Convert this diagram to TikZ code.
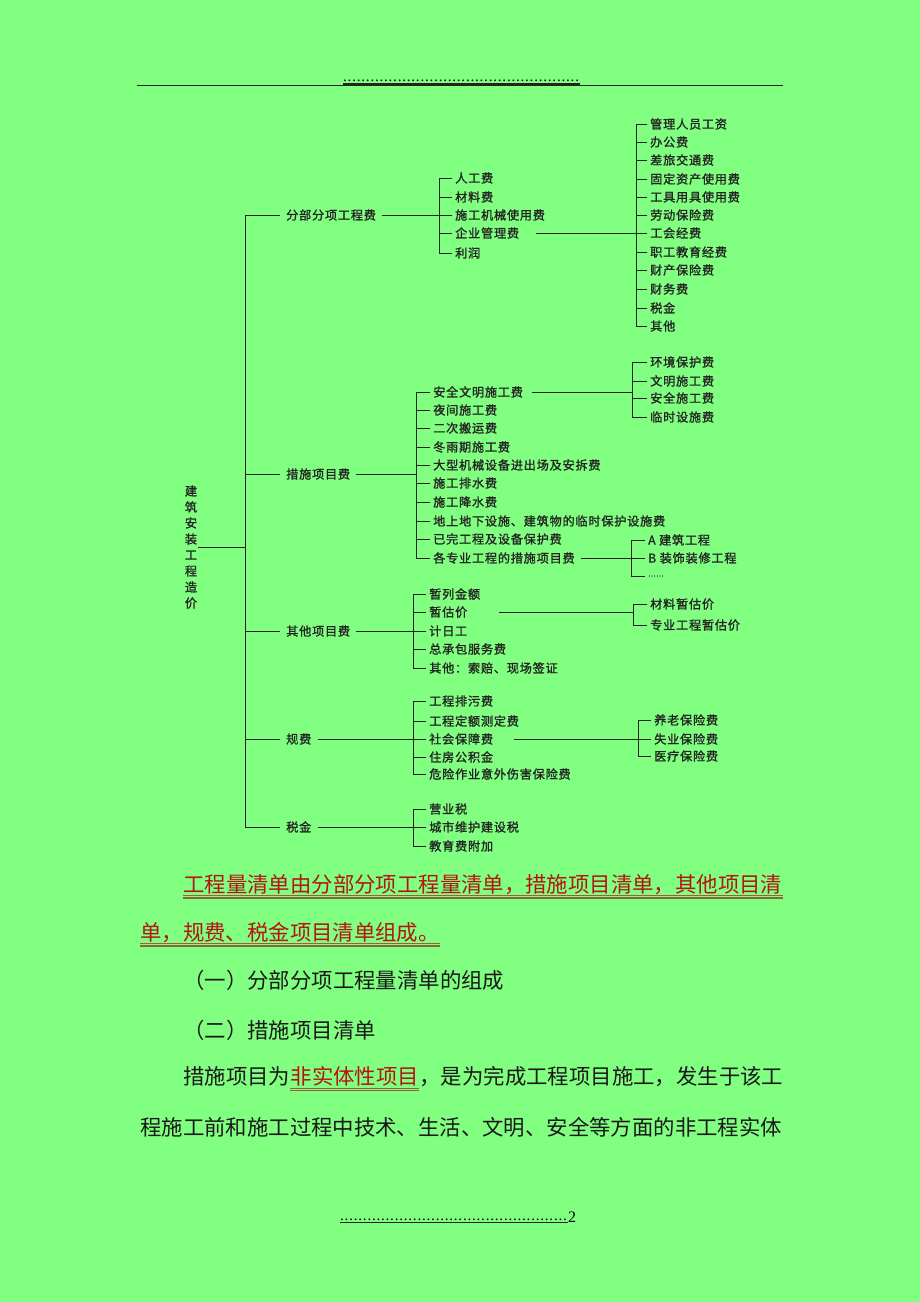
\documentclass[tikz,border=0pt]{standalone}
\usepackage{fontspec}
\setmainfont{Noto Sans CJK SC}
\newfontfamily\treefont[LetterSpace=6, FakeBold=1.2]{Noto Sans CJK SC}
\newfontfamily\pagefont{Liberation Serif}
\usetikzlibrary{calc,positioning}
\definecolor{pagegreen}{RGB}{128,255,128}
\definecolor{ink}{RGB}{35,35,35}
\definecolor{notered}{RGB}{180,20,20}
\definecolor{ulbrown}{RGB}{155,95,60}
\newcount\dotcount
\newcommand{\dotrow}[1]{\dotcount=0 \loop\ifnum\dotcount<#1 .\kern0.8pt\advance\dotcount by 1 \repeat}
\tikzset{
  conn/.style={draw=ink, line width=0.7pt},
  lvl/.style={anchor=west, inner xsep=6pt, inner ysep=1pt, text=ink, font=\treefont\fontsize{12.2}{14}\selectfont},
  itm/.style={lvl, inner xsep=3pt},
  body/.style={anchor=west, inner sep=0pt, text=black!90, font=\fontsize{21.4}{26}\selectfont},
  redtxt/.style={body, text=notered},
  uline/.style={draw=ulbrown, line width=1.5pt},
}

\begin{document}
\begin{tikzpicture}[x=1pt,y=-1pt]
			%%%%% PAGE %%%%%
			\fill[pagegreen] (0,0) rectangle (920,1302);
			\useasboundingbox (0,0) rectangle (920,1302);
			
			\draw[ink, line width=0.6pt] (137,85) -- (783,85);
			\node[anchor=base west, inner sep=0pt, font=\pagefont\fontsize{15}{15}\selectfont] (hdots) at (343,81) {\dotrow{52}};
			\draw[ink, line width=2pt] ([yshift=-3pt]hdots.base west) -- ([yshift=-3pt]hdots.base east);
			
			%%%%% TREE %%%%%
			\node[text=ink, font=\treefont\fontsize{12.2}{16}\selectfont, align=center, inner sep=1pt] (root) at (191,547) {建\\筑\\安\\装\\工\\程\\造\\价};
			
			\coordinate (b0) at (245,0);
			\coordinate (b1) at (439,0);
			\coordinate (b2) at (416,0);
			\coordinate (b3) at (413,0);
			\coordinate (b11) at (636,0);
			\coordinate (b21) at (632,0);
			\coordinate (b22) at (631,0);
			\coordinate (b31) at (633,0);
			\coordinate (b41) at (638,0);
			
			\node[lvl] (fbfx) at (280,215) {分部分项工程费};
			\node[lvl] (csxm) at (280,474) {措施项目费};
			\node[lvl] (qtxm) at (280,631) {其他项目费};
			\node[lvl] (guif) at (280,739) {规费};
			\node[lvl] (shuij) at (280,827) {税金};
			
			\draw[conn] (root.east) -- (root.east -| b0);
			\draw[conn] (fbfx.west) -- (fbfx.west -| b0) -- (shuij.west -| b0) -- (shuij.west)
				(csxm.west) -- (csxm.west -| b0) (qtxm.west) -- (qtxm.west -| b0) (guif.west) -- (guif.west -| b0);
			
			% fen bu fen xiang
			\node[itm] (rg) at (452,178) {人工费};
			\node[itm] (cl) at (452,197) {材料费};
			\node[itm] (sg) at (452,215) {施工机械使用费};
			\node[itm] (qy) at (452,233) {企业管理费};
			\node[itm] (lr) at (452,253) {利润};
			\draw[conn] (fbfx.east) -- (fbfx.east -| b1);
			\draw[conn] (rg.west) -- (rg.west -| b1) -- (lr.west -| b1) -- (lr.west)
				(cl.west) -- (cl.west -| b1) (sg.west) -- (sg.west -| b1) (qy.west) -- (qy.west -| b1);
			
			\node[itm] (gl1) at (647,124) {管理人员工资};
			\node[itm] (gl2) at (647,142) {办公费};
			\node[itm] (gl3) at (647,160) {差旅交通费};
			\node[itm] (gl4) at (647,179) {固定资产使用费};
			\node[itm] (gl5) at (647,197) {工具用具使用费};
			\node[itm] (gl6) at (647,215) {劳动保险费};
			\node[itm] (gl7) at (647,233) {工会经费};
			\node[itm] (gl8) at (647,252) {职工教育经费};
			\node[itm] (gl9) at (647,270) {财产保险费};
			\node[itm] (gl10) at (647,289) {财务费};
			\node[itm] (gl11) at (647,308) {税金};
			\node[itm] (gl12) at (647,326) {其他};
			\draw[conn, shorten <=14pt] (qy.east) -- (qy.east -| b11);
			\draw[conn] (gl1.west) -- (gl1.west -| b11) -- (gl12.west -| b11) -- (gl12.west)
				(gl2.west) -- (gl2.west -| b11) (gl3.west) -- (gl3.west -| b11) (gl4.west) -- (gl4.west -| b11)
				(gl5.west) -- (gl5.west -| b11) (gl6.west) -- (gl6.west -| b11) (gl7.west) -- (gl7.west -| b11)
				(gl8.west) -- (gl8.west -| b11) (gl9.west) -- (gl9.west -| b11) (gl10.west) -- (gl10.west -| b11)
				(gl11.west) -- (gl11.west -| b11);
			
			% cuo shi
			\node[itm] (cs1) at (430,392) {安全文明施工费};
			\node[itm] (cs2) at (430,410) {夜间施工费};
			\node[itm] (cs3) at (430,428) {二次搬运费};
			\node[itm] (cs4) at (430,447) {冬雨期施工费};
			\node[itm] (cs5) at (430,465) {大型机械设备进出场及安拆费};
			\node[itm] (cs6) at (430,483) {施工排水费};
			\node[itm] (cs7) at (430,502) {施工降水费};
			\node[itm] (cs8) at (430,521) {地上地下设施、建筑物的临时保护设施费};
			\node[itm] (cs9) at (430,539) {已完工程及设备保护费};
			\node[itm] (cs10) at (430,558) {各专业工程的措施项目费};
			\draw[conn] (csxm.east) -- (csxm.east -| b2);
			\draw[conn] (cs1.west) -- (cs1.west -| b2) -- (cs10.west -| b2) -- (cs10.west)
				(cs2.west) -- (cs2.west -| b2) (cs3.west) -- (cs3.west -| b2) (cs4.west) -- (cs4.west -| b2)
				(cs5.west) -- (cs5.west -| b2) (cs6.west) -- (cs6.west -| b2) (cs7.west) -- (cs7.west -| b2)
				(cs8.west) -- (cs8.west -| b2) (cs9.west) -- (cs9.west -| b2);
			
			\node[itm] (wm1) at (647,362) {环境保护费};
			\node[itm] (wm2) at (647,381) {文明施工费};
			\node[itm] (wm3) at (647,398) {安全施工费};
			\node[itm] (wm4) at (647,417) {临时设施费};
			\draw[conn, shorten <=6pt] (cs1.east) -- (cs1.east -| b21);
			\draw[conn] (wm1.west) -- (wm1.west -| b21) -- (wm4.west -| b21) -- (wm4.west)
				(wm2.west) -- (wm2.west -| b21) (wm3.west) -- (wm3.west -| b21);
			
			\node[itm] (zy1) at (645,540) {A 建筑工程};
			\node[itm] (zy2) at (645,558) {B 装饰装修工程};
			\node[itm, font=\treefont\fontsize{7}{8}\selectfont] (zy3) at (645,576) {……};
			\draw[conn, shorten <=3pt] (cs10.east) -- (cs10.east -| b22);
			\draw[conn] (zy1.west) -- (zy1.west -| b22) -- (zy3.west -| b22) -- (zy3.west)
				(zy2.west) -- (zy2.west -| b22);
			
			% qi ta
			\node[itm] (qt1) at (426,594) {暂列金额};
			\node[itm] (qt2) at (426,612) {暂估价};
			\node[itm] (qt3) at (426,631) {计日工};
			\node[itm] (qt4) at (426,649) {总承包服务费};
			\node[itm] (qt5) at (426,668) {其他：索赔、现场签证};
			\draw[conn] (qtxm.east) -- (qtxm.east -| b3);
			\draw[conn] (qt1.west) -- (qt1.west -| b3) -- (qt5.west -| b3) -- (qt5.west)
				(qt2.west) -- (qt2.west -| b3) (qt3.west) -- (qt3.west -| b3) (qt4.west) -- (qt4.west -| b3);
			
			\node[itm] (zg1) at (647,604) {材料暂估价};
			\node[itm] (zg2) at (647,625) {专业工程暂估价};
			\draw[conn, shorten <=29pt] (qt2.east) -- (qt2.east -| b31);
			\draw[conn] (zg1.west) -- (zg1.west -| b31) -- (zg2.west -| b31) -- (zg2.west);
			
			% gui fei
			\node[itm] (gf1) at (426,701) {工程排污费};
			\node[itm] (gf2) at (426,721) {工程定额测定费};
			\node[itm] (gf3) at (426,739) {社会保障费};
			\node[itm] (gf4) at (426,757) {住房公积金};
			\node[itm] (gf5) at (426,774) {危险作业意外伤害保险费};
			\draw[conn] (guif.east) -- (guif.east -| b3);
			\draw[conn] (gf1.west) -- (gf1.west -| b3) -- (gf5.west -| b3) -- (gf5.west)
				(gf2.west) -- (gf2.west -| b3) (gf3.west) -- (gf3.west -| b3) (gf4.west) -- (gf4.west -| b3);
			
			\node[itm] (sb1) at (651,720) {养老保险费};
			\node[itm] (sb2) at (651,739) {失业保险费};
			\node[itm] (sb3) at (651,756) {医疗保险费};
			\draw[conn, shorten <=18pt] (gf3.east) -- (gf3.east -| b41);
			\draw[conn] (sb1.west) -- (sb1.west -| b41) -- (sb3.west -| b41) -- (sb3.west)
				(sb2.west) -- (sb2.west -| b41);
			
			% shui jin
			\node[itm] (sj1) at (426,809) {营业税};
			\node[itm] (sj2) at (426,827) {城市维护建设税};
			\node[itm] (sj3) at (426,846) {教育费附加};
			\draw[conn] (shuij.east) -- (shuij.east -| b3);
			\draw[conn] (sj1.west) -- (sj1.west -| b3) -- (sj3.west -| b3) -- (sj3.west)
				(sj2.west) -- (sj2.west -| b3);
			
			%%%%% TEXT %%%%%
			\node[redtxt] (p1) at (183,885) {工程量清单由分部分项工程量清单，措施项目清单，其他项目清};
			\node[redtxt] (p2) at (140,933) {单，规费、税金项目清单组成。};
			\draw[uline] (p1.south west) -- (p1.south east);
			\draw[uline] ([yshift=-2.6pt]p1.south west) -- ([yshift=-2.6pt]p1.south east);
			\draw[uline] (p2.south west) -- (p2.south east);
			\draw[uline] ([yshift=-2.6pt]p2.south west) -- ([yshift=-2.6pt]p2.south east);
			
			\node[body] (p3) at (183,980) {（一）分部分项工程量清单的组成};
			\node[body] (p4) at (183,1030) {（二）措施项目清单};
			
			\node[body] (p5a) at (183,1076) {措施项目为};
			\node[redtxt, anchor=base west] (p5b) at (p5a.base east) {非实体性项目};
			\node[body, anchor=base west] (p5c) at (p5b.base east) {，是为完成工程项目施工，发生于该工};
			\draw[uline, line width=1pt] ([yshift=-2pt]p5b.south west) -- ([yshift=-2pt]p5b.south east);
			\draw[uline, line width=1pt] ([yshift=-4.5pt]p5b.south west) -- ([yshift=-4.5pt]p5b.south east);
			
			\node[body] (p6) at (140,1127) {程施工前和施工过程中技术、生活、文明、安全等方面的非工程实体};
			
			%%%%% FOOTER %%%%%
			\node[anchor=base west, inner sep=0pt, font=\pagefont\fontsize{15}{15}\selectfont] (fdots) at (340,1220) {\dotrow{50}};
			\node[anchor=base west, inner sep=0pt, font=\pagefont\fontsize{16}{16}\selectfont] (pgno) at ([yshift=-2pt]fdots.base east) {2};
			\draw[ink, line width=1.5pt] ([yshift=-2.5pt]fdots.base west) -- ([yshift=-2.5pt]fdots.base east);
			
		\end{tikzpicture}
\end{document}
